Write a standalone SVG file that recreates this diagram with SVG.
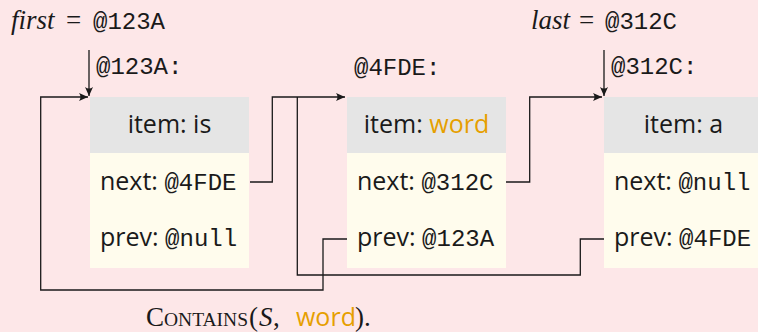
<svg xmlns="http://www.w3.org/2000/svg" width="758" height="332" viewBox="0 0 758 332">
  <defs>
    <marker id="arrow" viewBox="-10 -5 11 10" refX="0" refY="0" markerWidth="11" markerHeight="10" markerUnits="userSpaceOnUse" orient="auto">
      <path d="M0,0 L-9,-4 Q-6,0 -9,4 Z" fill="#1a1a1a"/>
    </marker>
    <style>
      .sans { font-family: "Open Sans", "Noto Sans", sans-serif; font-size: 25px; fill: #1a1a1a; }
      .mono { font-family: "Liberation Mono", "DejaVu Sans Mono", monospace; font-size: 24px; fill: #1a1a1a; }
      .serif { font-family: "Liberation Serif", serif; font-size: 27px; fill: #1a1a1a; }
      .it { font-style: italic; }
      .hl { fill: #e69f00; }
      .head { fill: #e5e5e5; }
      .body { fill: #fffced; }
      .wire { fill: none; stroke: #1a1a1a; stroke-width: 1.3; }
    </style>
  </defs>

  <!-- page background -->
  <rect x="0" y="0" width="758" height="332" fill="#fde7e8"/>

  <!-- list pointers -->
  <g id="first-pointer">
    <text class="serif" y="29"><tspan class="it" x="11">first</tspan><tspan x="66">=</tspan></text>
    <text class="mono" x="93" y="29">@123A</text>
  </g>
  <g id="last-pointer">
    <text class="serif" y="29"><tspan class="it" x="531">last</tspan><tspan x="579">=</tspan></text>
    <text class="mono" x="605" y="29">@312C</text>
  </g>

  <!-- node at @123A -->
  <g id="node-123A">
    <text class="mono" x="96" y="74">@123A:</text>
    <rect class="head" x="90" y="97" width="159" height="56"/>
    <rect class="body" x="90" y="153" width="159" height="115"/>
    <text class="sans" x="169.5" y="133" text-anchor="middle">item: is</text>
    <text class="sans" x="100" y="190">next: <tspan class="mono">@4FDE</tspan></text>
    <text class="sans" x="100" y="246">prev: <tspan class="mono">@null</tspan></text>
  </g>

  <!-- node at @4FDE -->
  <g id="node-4FDE">
    <text class="mono" x="354" y="75">@4FDE:</text>
    <rect class="head" x="347" y="97" width="159" height="56"/>
    <rect class="body" x="347" y="153" width="159" height="115"/>
    <text class="sans" x="426.5" y="133" text-anchor="middle">item: <tspan class="hl">word</tspan></text>
    <text class="sans" x="357" y="190">next: <tspan class="mono">@312C</tspan></text>
    <text class="sans" x="357" y="246">prev: <tspan class="mono">@123A</tspan></text>
  </g>

  <!-- node at @312C -->
  <g id="node-312C">
    <text class="mono" x="611" y="74">@312C:</text>
    <rect class="head" x="604" y="97" width="154" height="56"/>
    <rect class="body" x="604" y="153" width="154" height="115"/>
    <text class="sans" x="683.5" y="133" text-anchor="middle">item: a</text>
    <text class="sans" x="614" y="190">next: <tspan class="mono">@null</tspan></text>
    <text class="sans" x="614" y="246">prev: <tspan class="mono">@4FDE</tspan></text>
  </g>

  <!-- links -->
  <g id="connectors">
    <path class="wire" d="M89,50 V96" marker-end="url(#arrow)"/>
    <path class="wire" d="M604,50 V96" marker-end="url(#arrow)"/>
    <path class="wire" d="M347,239 H323 V290 H40.7 V97 H88" marker-end="url(#arrow)"/>
    <path class="wire" d="M250,182 H272.3 V97 H345" marker-end="url(#arrow)"/>
    <path class="wire" d="M604,239 H580.3 V275 H297.3 V97"/>
    <path class="wire" d="M506,182 H529.7 V97 H602" marker-end="url(#arrow)"/>
  </g>

  <!-- caption -->
  <text class="serif" y="326" font-size="28"><tspan x="146">C</tspan><tspan font-size="19.5">ONTAINS</tspan><tspan x="249">(</tspan><tspan class="it" x="259">S</tspan><tspan x="273">,</tspan><tspan class="sans hl" x="296" font-size="24">word</tspan><tspan x="355">).</tspan></text>
</svg>
